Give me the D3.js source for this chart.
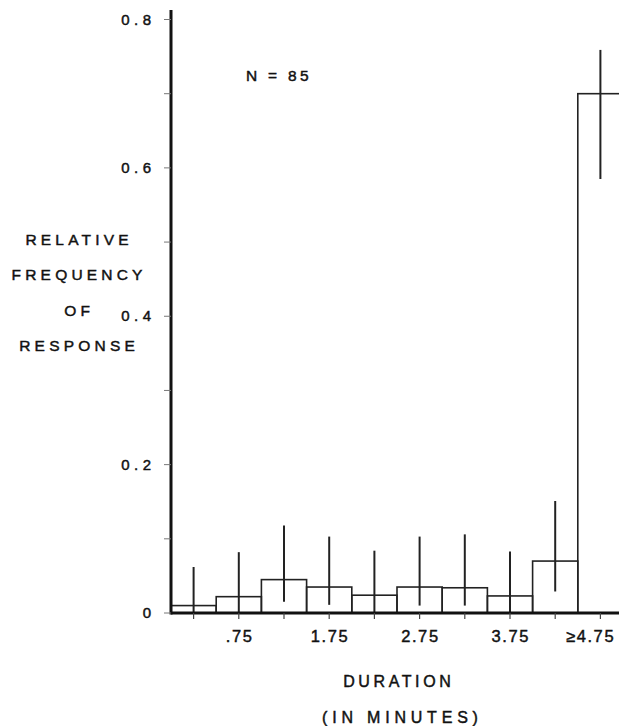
<!DOCTYPE html>
<html><head><meta charset="utf-8">
<script src="https://cdn.jsdelivr.net/npm/d3@7"></script>
<style>body{margin:0;background:#fff}svg{display:block}text{font-family:"Liberation Sans",Arial,sans-serif;fill:#111;stroke:#111;stroke-width:0.45}</style>
</head><body><svg id="c" width="619" height="726"></svg>
<script>
const binStart = [0,0.5,1,1.5,2,2.5,3,3.5,4,4.5];
const freq   = [0.010,0.022,0.045,0.035,0.024,0.035,0.034,0.023,0.070,0.700];
const errLo  = [0,0,0.015,0.011,0,0.010,0.010,0,0.029,0.585];
const errHi  = [0.062,0.082,0.118,0.103,0.084,0.103,0.106,0.083,0.151,0.759];
const xTickVals = [0.25,0.75,1.25,1.75,2.25,2.75,3.25,3.75,4.25,4.75];
const xLabels = [{v:0.75,t:".75"},{v:1.75,t:"1.75"},{v:2.75,t:"2.75"},{v:3.75,t:"3.75"},{v:4.75,t:"≥4.75"}];
const yLabelVals = [0,0.2,0.4,0.6,0.8];
const yMinorVals = [0,0.1,0.2,0.3,0.4,0.5,0.6,0.7,0.8];
const yTitle = ["RELATIVE","FREQUENCY","OF","RESPONSE"];
const xTitle = ["DURATION","(IN MINUTES)"];
const note = "N = 85";

const svg = d3.select("#c");
const x = d3.scaleLinear().domain([0,5]).range([171,623]);
const y = d3.scaleLinear().domain([0,0.8]).range([613,19.5]);
const bw = 0.5;

// bars
svg.selectAll("rect.bar").data(freq).enter().append("rect")
  .attr("x",(d,i)=>x(binStart[i])).attr("y",d=>y(d))
  .attr("width",(d,i)=>x(binStart[i]+bw)-x(binStart[i]))
  .attr("height",d=>y(0)-y(d))
  .attr("fill","none").attr("stroke","#222").attr("stroke-width",1.6);

// error bars
svg.selectAll("line.err").data(freq).enter().append("line")
  .attr("x1",(d,i)=>x(binStart[i]+bw/2)).attr("x2",(d,i)=>x(binStart[i]+bw/2))
  .attr("y1",(d,i)=>y(errLo[i])).attr("y2",(d,i)=>y(errHi[i]))
  .attr("stroke","#222").attr("stroke-width",2);

// x axis baseline and ticks
svg.append("line").attr("x1",x(0)).attr("x2",619).attr("y1",y(0)).attr("y2",y(0))
  .attr("stroke","#111").attr("stroke-width",3);
svg.selectAll("line.xt").data(xTickVals).enter().append("line")
  .attr("x1",d=>x(d)).attr("x2",d=>x(d)).attr("y1",y(0)).attr("y2",y(0)+6)
  .attr("stroke","#444").attr("stroke-width",1.2);
svg.selectAll("text.xl").data(xLabels).enter().append("text")
  .attr("x",d=>d.t.startsWith("≥")?566:x(d.v)+0.8).attr("y",642)
  .attr("text-anchor",d=>d.t.startsWith("≥")?"start":"middle")
  .attr("font-size",16.5).attr("letter-spacing",1.6).text(d=>d.t);

// y axis
svg.append("line").attr("x1",x(0)).attr("x2",x(0)).attr("y1",10).attr("y2",y(0)+1.5)
  .attr("stroke","#111").attr("stroke-width",3);
svg.selectAll("line.yt").data(yMinorVals).enter().append("line")
  .attr("x1",x(0)-7).attr("x2",x(0)).attr("y1",d=>y(d)).attr("y2",d=>y(d))
  .attr("stroke","#777").attr("stroke-width",1);
svg.selectAll("text.yl").data(yLabelVals).enter().append("text")
  .attr("x",151+4.5).attr("y",d=>y(d)+5).attr("text-anchor","end")
  .attr("font-size",15).attr("letter-spacing",4.5).text(d=>d===0?"0":d3.format(".1f")(d));

// y title
svg.selectAll("text.yt").data(yTitle).enter().append("text")
  .attr("x",77+2.1).attr("y",(d,i)=>245+i*35.3).attr("text-anchor","middle")
  .attr("font-size",15.5).attr("letter-spacing",4.2).text(d=>d);

// x title
svg.selectAll("text.xtt").data(xTitle).enter().append("text")
  .attr("x",(d,i)=>i===0?397+1.8:400+2.4).attr("y",(d,i)=>687+i*35.5).attr("text-anchor","middle")
  .attr("font-size",16).attr("letter-spacing",(d,i)=>i===0?3.6:4.8).text(d=>d);

svg.append("text").attr("x",246).attr("y",81).attr("font-size",15.5).attr("letter-spacing",3.3).text(note);
</script></body></html>
